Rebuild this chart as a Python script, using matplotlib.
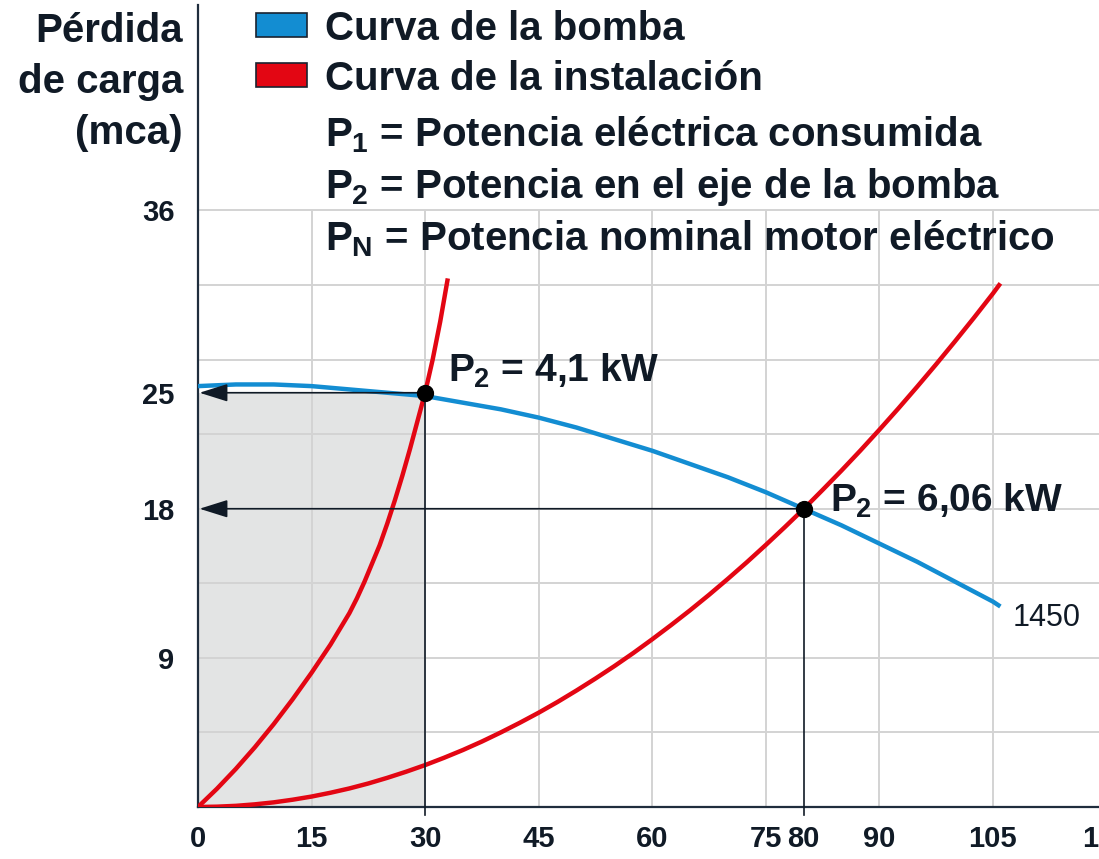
import matplotlib
matplotlib.use("Agg")
import matplotlib.pyplot as plt
from matplotlib.patches import Rectangle

# datos
q_bomba = [0, 2.5, 5, 7.5, 10, 12.5, 15, 17.5, 20, 22.5, 25, 27.5, 30, 32.5, 35, 37.5, 40, 42.5, 45,
           47.5, 50, 52.5, 55, 57.5, 60, 62.5, 65, 67.5, 70, 72.5, 75, 77.5, 80, 82.5, 85, 87.5, 90,
           92.5, 95, 97.5, 100, 102.5, 105, 106]
h_bomba = [25.4, 25.45, 25.5, 25.5, 25.5, 25.45, 25.4, 25.3, 25.2, 25.1, 25.0, 24.9, 24.8, 24.6, 24.4,
           24.2, 24.0, 23.75, 23.5, 23.2, 22.9, 22.55, 22.2, 21.85, 21.5, 21.1, 20.7, 20.3, 19.9, 19.45,
           19.0, 18.5, 18.0, 17.5, 17.0, 16.45, 15.9, 15.35, 14.8, 14.2, 13.6, 13.0, 12.4, 12.1]

q_inst1 = [0, 2.5, 5, 7.5, 10, 12.5, 15, 17.5, 20, 21, 22, 23, 24, 25, 26, 27, 28, 29, 30, 31, 32, 33]
h_inst1 = [0, 1.1, 2.3, 3.6, 5.0, 6.5, 8.1, 9.8, 11.7, 12.6, 13.6, 14.7, 15.8, 17.1, 18.5, 20.0, 21.6,
           23.3, 25.0, 27.0, 29.3, 31.9]

q_inst2 = [0, 2.5, 5, 7.5, 10, 12.5, 15, 17.5, 20, 22.5, 25, 27.5, 30, 32.5, 35, 37.5, 40, 42.5, 45,
           47.5, 50, 52.5, 55, 57.5, 60, 62.5, 65, 67.5, 70, 72.5, 75, 77.5, 80, 82.5, 85, 87.5, 90,
           92.5, 95, 97.5, 100, 102.5, 105, 106]
h_inst2 = [0, 0.02, 0.07, 0.16, 0.28, 0.44, 0.63, 0.86, 1.12, 1.42, 1.76, 2.13, 2.53, 2.97, 3.44, 3.95,
           4.5, 5.08, 5.69, 6.34, 7.03, 7.75, 8.5, 9.29, 10.12, 10.98, 11.87, 12.8, 13.77, 14.77, 15.81,
           16.88, 17.98, 19.13, 20.3, 21.51, 22.76, 24.04, 25.36, 26.71, 28.1, 29.52, 30.98, 31.6]

pto_q = [30, 80]
pto_h = [25, 18]
pto_txt = ["$P_2$ = 4,1 kW", "$P_2$ = 6,06 kW"]

xticks = [0, 15, 30, 45, 60, 75, 80, 90, 105, 120]
yticks = [9, 18, 25, 36]
grid_x = [15, 30, 45, 60, 75, 90, 105]
grid_y = [4.5, 9, 13.5, 18, 22.5, 27, 31.5, 36]

leyenda = ["Curva de la bomba", "Curva de la instalación"]
notas = ["$P_1$ = Potencia eléctrica consumida",
         "$P_2$ = Potencia en el eje de la bomba",
         "$P_N$ = Potencia nominal motor eléctrico"]

azul = "#138dd2"
rojo = "#e30613"
oscuro = "#101a26"

plt.rcParams["font.family"] = ["Liberation Sans", "DejaVu Sans"]
plt.rcParams["mathtext.fontset"] = "custom"
plt.rcParams["mathtext.it"] = "Liberation Sans:bold"
plt.rcParams["mathtext.rm"] = "Liberation Sans:bold"
plt.rcParams["mathtext.bf"] = "Liberation Sans:bold"

W, H = 1099, 859
fig = plt.figure(figsize=(W / 100, H / 100), dpi=100)
ax = fig.add_axes([198 / W, 52 / H, 923.5 / W, 802 / H])
ax.set_xlim(0, 122)
ax.set_ylim(0, 48.4)

# rejilla
ax.vlines(grid_x, 0, 36, color="#d3d3d3", lw=1.4, zorder=1)
ax.hlines(grid_y, 0, 122, color="#d3d3d3", lw=1.4, zorder=1)

# zona sombreada
ax.add_patch(Rectangle((0, 0), pto_q[0], pto_h[0], facecolor="#e3e4e4", edgecolor="none", zorder=0.5))

# curvas
ax.plot(q_inst2, h_inst2, color=rojo, lw=3.2, zorder=3, solid_capstyle="butt")
ax.plot(q_inst1, h_inst1, color=rojo, lw=3.2, zorder=3, solid_capstyle="butt")
ax.plot(q_bomba, h_bomba, color=azul, lw=3.2, zorder=3, solid_capstyle="butt")

# lineas de referencia y flechas
for q, h in zip(pto_q, pto_h):
    ax.plot([q, q], [-0.5, h], color=oscuro, lw=1.2, zorder=4, clip_on=False)
    ax.annotate("", xy=(0.2, h), xytext=(q, h),
                arrowprops=dict(arrowstyle="-|>,head_length=1.75,head_width=0.55",
                                mutation_scale=10, color=oscuro, lw=1.2,
                                shrinkA=0, shrinkB=0), zorder=4)
ax.scatter(pto_q, pto_h, s=130, color="black", zorder=5)

ax.text(33.0, 26.3, pto_txt[0], fontsize=28, fontweight="bold", color=oscuro, va="center", zorder=6)
ax.text(83.5, 18.5, pto_txt[1], fontsize=28, fontweight="bold", color=oscuro, va="center", zorder=6)
ax.text(107.6, 11.4, "1450", fontsize=22, color=oscuro, va="center", zorder=6)

# ejes
for s in ["top", "right"]:
    ax.spines[s].set_visible(False)
for s in ["left", "bottom"]:
    ax.spines[s].set_color("#1f2d3d")
    ax.spines[s].set_linewidth(1.6)
ax.set_xticks(xticks)
ax.set_yticks(yticks)
ax.set_xticklabels([str(v) for v in xticks], fontsize=21, fontweight="bold", color=oscuro)
ax.set_yticklabels([str(v) for v in yticks], fontsize=21, fontweight="bold", color=oscuro)
ax.tick_params(axis="x", length=0, pad=13)
ax.tick_params(axis="y", length=0, pad=17)

# titulo del eje y
fig.text(183 / W, 1 - 82 / H, "Pérdida\nde carga\n(mca)", fontsize=29, fontweight="bold",
         color=oscuro, ha="right", va="center", linespacing=1.45)

# leyenda
for i, (txt, col) in enumerate(zip(leyenda, [azul, rojo])):
    yc = 25 + i * 50
    fig.patches.append(Rectangle((256 / W, 1 - (yc + 12) / H), 51 / W, 24 / H, facecolor=col,
                                 edgecolor="#1a2330", lw=1.2, transform=fig.transFigure, figure=fig))
    fig.text(325 / W, 1 - (yc + 4) / H, txt, fontsize=29, fontweight="bold", color=oscuro, va="center")
for i, txt in enumerate(notas):
    fig.text(325 / W, 1 - (135 + i * 52) / H, txt, fontsize=29, fontweight="bold", color=oscuro, va="center")

fig.savefig("out.png", dpi=100)
